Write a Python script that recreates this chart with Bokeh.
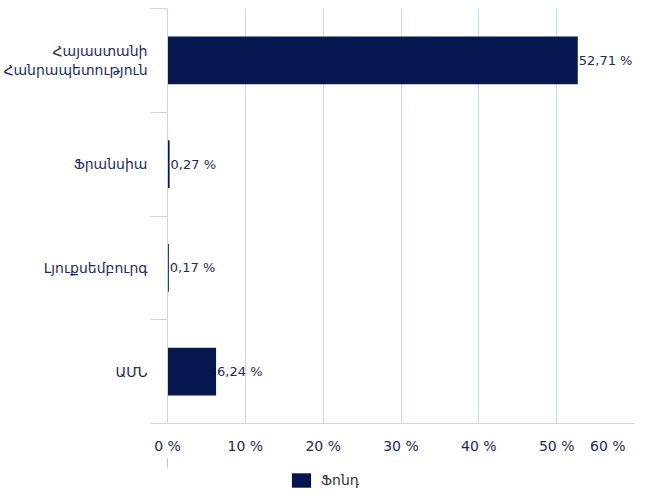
from bokeh.plotting import figure
from bokeh.layouts import column
from bokeh.models import (FixedTicker, PrintfTickFormatter, ColumnDataSource, Legend,
                          LegendItem, Range1d)
from bokeh.core.properties import value
from bokeh.embed import file_html
from bokeh.resources import INLINE

categories = ["Հայաստանի\nՀանրապետություն", "Ֆրանսիա", "Լյուքսեմբուրգ", "ԱՄՆ"]
values = [52.71, 0.27, 0.17, 6.24]
x_ticks = [0, 10, 20, 30, 40, 50, 60]
series_name = "Ֆոնդ"

n = len(categories)
ypos = [n - i for i in range(n)]
labels = [f"{v:.2f}".replace(".", ",") + " %" for v in values]
src = ColumnDataSource(dict(y=ypos, v=values, lab=labels))

FONT = "DejaVu Sans"
NAVY = "#1c2b58"
BAR = "#03164d"
GRID = "#cbd6e6"

p = figure(width=634, height=458, output_backend="svg", toolbar_location=None,
           x_range=Range1d(0, x_ticks[-1]), y_range=Range1d(0.5, n + 0.5),
           min_border_left=159, min_border_right=0, min_border_top=8, min_border_bottom=35)
p.outline_line_color = None
p.background_fill_color = "white"

r = p.hbar(y="y", right="v", left=0, height=0.46, source=src,
           fill_color=BAR, line_color=None)
p.text(x="v", y="y", text="lab", source=src, text_font=value(FONT),
       text_font_size="13px", text_color=NAVY, text_baseline="middle",
       text_align="left", x_offset=1)

xa = p.xaxis[0]
xa.ticker = FixedTicker(ticks=x_ticks)
xa.formatter = PrintfTickFormatter(format="%d %%")
# the last label sits at the canvas edge: pad it on the right so it stays visible
xa.major_label_overrides = {x_ticks[-1]: f"{x_ticks[-1]} %" + "\u00a0" * 2}
xa.major_tick_out = 0
xa.major_tick_in = 0
xa.minor_tick_out = 0
xa.minor_tick_in = 0
xa.axis_line_color = GRID
xa.major_label_standoff = 14
xa.major_label_text_font = FONT
xa.major_label_text_font_size = "14px"
xa.major_label_text_color = NAVY

p.xgrid.ticker = FixedTicker(ticks=x_ticks)
p.xgrid.grid_line_color = GRID
p.ygrid.grid_line_color = None

ya = p.yaxis[0]
ya.ticker = FixedTicker(ticks=ypos, minor_ticks=[0.5 + i for i in range(n + 1)])
ya.major_label_overrides = {y: c for y, c in zip(ypos, categories)}
ya.major_tick_out = 0
ya.major_tick_in = 0
ya.minor_tick_out = 17
ya.minor_tick_in = 0
ya.minor_tick_line_color = GRID
ya.axis_line_color = GRID
ya.major_label_standoff = 3
ya.major_label_text_font = FONT
ya.major_label_text_font_size = "14px"
ya.major_label_text_color = NAVY

# legend strip below the chart (its bars are out of view; only the legend shows)
p2 = figure(width=634, height=40, output_backend="svg", toolbar_location=None,
            x_range=Range1d(1000, 1001), y_range=Range1d(0, 1),
            x_axis_type=None, y_axis_type=None,
            min_border_left=0, min_border_right=0, min_border_top=0, min_border_bottom=0)
p2.outline_line_color = None
p2.xgrid.grid_line_color = None
p2.ygrid.grid_line_color = None
r2 = p2.hbar(y="y", right="v", left=0, height=0.46, source=src,
             fill_color=BAR, line_color=None)
legend = Legend(items=[LegendItem(label=series_name, renderers=[r2])],
                location=(122, 9), orientation="horizontal", padding=0, margin=0,
                border_line_color=None, background_fill_alpha=0,
                glyph_width=24, glyph_height=18, label_height=18,
                label_text_font=FONT, label_text_font_size="14px",
                label_text_color="#333333", label_standoff=8)
p2.add_layout(legend)

open("out.html", "w").write(file_html(column(p, p2, spacing=0), INLINE))
